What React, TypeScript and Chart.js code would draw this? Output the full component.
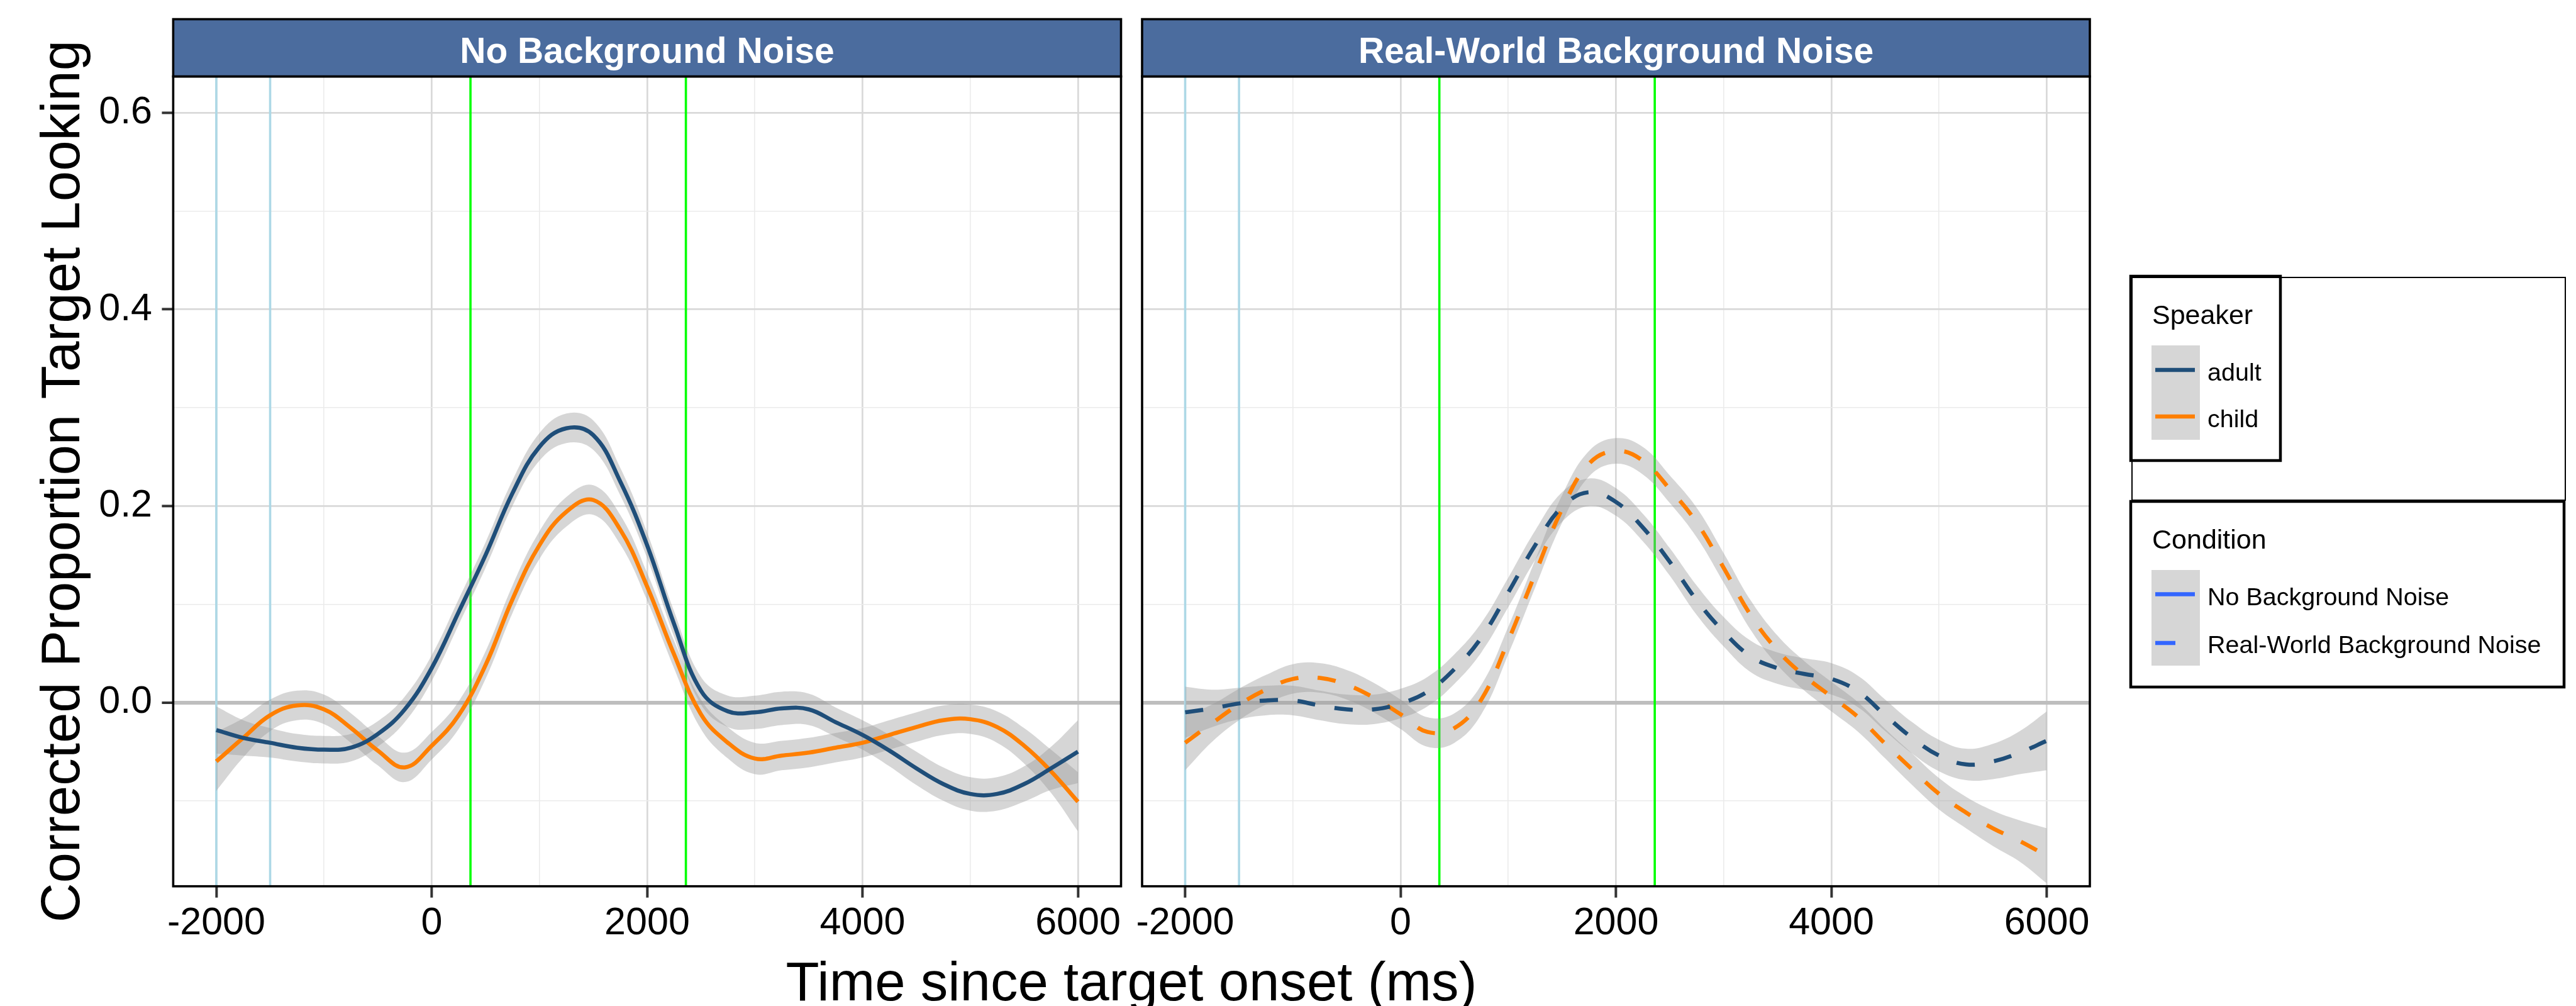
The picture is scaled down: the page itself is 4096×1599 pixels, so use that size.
import React, { useEffect, useRef } from "react";
import { Chart, registerables } from "chart.js";

Chart.register(...registerables);

// ---------------- data ----------------
const TIME = [
  -2000, -1750, -1500, -1250, -1000, -750, -500, -250, 0, 250, 500, 750, 1000, 1250, 1500, 1750, 2000,
  2250, 2500, 2750, 3000, 3250, 3500, 3750, 4000, 4250, 4500, 4750, 5000, 5250, 5500, 5750, 6000,
];

// Panel 1: No Background Noise
const NBN_ADULT = [
  -0.028, -0.036, -0.041, -0.046, -0.048, -0.046, -0.032, -0.007, 0.035, 0.092, 0.15, 0.213, 0.26, 0.279, 0.272,
  0.225, 0.16, 0.08, 0.012, -0.009, -0.01, -0.006, -0.007, -0.02, -0.033, -0.049, -0.067, -0.083, -0.093, -0.093,
  -0.083, -0.067, -0.05,
];
const NBN_CHILD = [
  -0.06, -0.036, -0.013, -0.003, -0.007, -0.026, -0.049, -0.066, -0.044, -0.013, 0.038, 0.105, 0.16, 0.194, 0.206,
  0.176, 0.118, 0.049, -0.012, -0.041, -0.057, -0.054, -0.051, -0.046, -0.041, -0.033, -0.025, -0.018, -0.017,
  -0.025, -0.044, -0.07, -0.101,
];
// half-width of the grey confidence ribbons
const NBN_ADULT_SE = [
  0.024, 0.018, 0.015, 0.014, 0.014, 0.014, 0.013, 0.013, 0.013, 0.013, 0.013, 0.013, 0.014, 0.015, 0.015, 0.014,
  0.013, 0.013, 0.014, 0.016, 0.017, 0.017, 0.016, 0.015, 0.015, 0.016, 0.017, 0.017, 0.017, 0.017, 0.018, 0.022,
  0.032,
];
const NBN_CHILD_SE = [
  0.03, 0.02, 0.016, 0.015, 0.015, 0.015, 0.015, 0.015, 0.014, 0.014, 0.014, 0.014, 0.014, 0.015, 0.015, 0.015,
  0.014, 0.014, 0.015, 0.016, 0.016, 0.015, 0.015, 0.015, 0.015, 0.015, 0.015, 0.015, 0.015, 0.016, 0.018, 0.022,
  0.03,
];

// Panel 2: Real-World Background Noise
const RW_ADULT = [
  -0.01, -0.006, -0.001, 0.002, 0.002, -0.003, -0.007, -0.007, -0.001, 0.011, 0.034, 0.066, 0.112, 0.16, 0.199,
  0.214, 0.204, 0.178, 0.143, 0.104, 0.072, 0.047, 0.035, 0.029, 0.024, 0.011, -0.013, -0.036, -0.054, -0.063,
  -0.06, -0.051, -0.039,
];
const RW_CHILD = [
  -0.041, -0.021, -0.002, 0.013, 0.024, 0.025, 0.018, 0.005, -0.012, -0.03, -0.026, 0.003, 0.063, 0.131, 0.197,
  0.243, 0.256, 0.246, 0.217, 0.183, 0.137, 0.089, 0.053, 0.027, 0.006, -0.015, -0.042, -0.068, -0.093, -0.112,
  -0.128, -0.141, -0.156,
];
const RW_ADULT_SE = [
  0.026, 0.019, 0.016, 0.015, 0.015, 0.015, 0.015, 0.015, 0.015, 0.015, 0.015, 0.015, 0.015, 0.015, 0.015, 0.014,
  0.014, 0.014, 0.014, 0.015, 0.015, 0.016, 0.016, 0.016, 0.016, 0.016, 0.016, 0.016, 0.016, 0.016, 0.018, 0.022,
  0.03,
];
const RW_CHILD_SE = [
  0.028, 0.019, 0.016, 0.015, 0.015, 0.015, 0.015, 0.015, 0.015, 0.015, 0.015, 0.015, 0.014, 0.014, 0.014, 0.013,
  0.013, 0.014, 0.014, 0.015, 0.015, 0.015, 0.015, 0.015, 0.015, 0.015, 0.015, 0.016, 0.016, 0.016, 0.018, 0.021,
  0.028,
];

const PANEL_TITLES = ["No Background Noise", "Real-World Background Noise"];
const X_MAJOR = [-2000, 0, 2000, 4000, 6000];
const X_TICK_LABELS = ["-2000", "0", "2000", "4000", "6000"];
const X_MINOR = [-1000, 1000, 3000, 5000];
const Y_MAJOR = [0, 0.2, 0.4, 0.6];
const Y_TICK_LABELS = ["0.0", "0.2", "0.4", "0.6"];
const Y_MINOR = [-0.1, 0.1, 0.3, 0.5];
const BASELINE_LINES = [-2000, -1500];
const WINDOW_LINES = [360, 2360];
const SPEAKERS = ["adult", "child"];
const CONDITIONS = ["No Background Noise", "Real-World Background Noise"];
const SPEAKER_TITLE = "Speaker";
const CONDITION_TITLE = "Condition";
const X_TITLE = "Time since target onset (ms)";
const Y_TITLE = "Corrected Proportion Target Looking";

// ---------------- styles ----------------
const FONT = "'Liberation Sans', Arial, Helvetica, sans-serif";
const ADULT_COLOR = "#1F4E79";
const CHILD_COLOR = "#FF7F00";
const BAND_COLOR = "rgba(153,153,153,0.4)";
const STRIP_COLOR = "#4B6C9E";
const COND_COLOR = "#3366FF";

const W = 4096;
const H = 1599;
const STRIP_TOP = 30.5;
const PLOT_TOP = 121.5;
const PLOT_BOTTOM = 1408.7;
const PANELS = [
  { canvasLeft: 0, canvasWidth: 2400, areaLeft: 275.4, areaRight: 1782.5 },
  { canvasLeft: 1700, canvasWidth: 2396, areaLeft: 1816, areaRight: 3323 },
];

const near = (a: number, b: number) => Math.abs(a - b) < 1e-9;
const idxOf = (arr: number[], v: number) => arr.findIndex((m) => near(m, v));

function line(ctx: CanvasRenderingContext2D, x1: number, y1: number, x2: number, y2: number) {
  ctx.beginPath();
  ctx.moveTo(x1, y1);
  ctx.lineTo(x2, y2);
  ctx.stroke();
}

function makeDecor(panel: number) {
  const P = PANELS[panel];
  return {
    id: "decor" + panel,
    beforeDatasetsDraw(chart: any) {
      const { ctx, chartArea: a, scales } = chart;
      const x = scales.x;
      ctx.save();
      ctx.beginPath();
      ctx.rect(a.left, a.top, a.right - a.left, a.bottom - a.top);
      ctx.clip();
      ctx.lineWidth = 3.6;
      ctx.strokeStyle = "#ADD8E6";
      BASELINE_LINES.forEach((v) => {
        const px = x.getPixelForValue(v);
        line(ctx, px, a.top, px, a.bottom);
      });
      ctx.strokeStyle = "#00FF00";
      WINDOW_LINES.forEach((v) => {
        const px = x.getPixelForValue(v);
        line(ctx, px, a.top, px, a.bottom);
      });
      ctx.restore();
    },
    afterDraw(chart: any) {
      const { ctx, chartArea: a } = chart;
      ctx.save();
      // panel border
      ctx.strokeStyle = "#000";
      ctx.lineWidth = 3.6;
      ctx.strokeRect(a.left, a.top, a.right - a.left, a.bottom - a.top);
      // strip
      ctx.fillStyle = STRIP_COLOR;
      ctx.fillRect(a.left, STRIP_TOP, a.right - a.left, PLOT_TOP - STRIP_TOP);
      ctx.strokeRect(a.left, STRIP_TOP, a.right - a.left, PLOT_TOP - STRIP_TOP);
      ctx.fillStyle = "#FFFFFF";
      ctx.font = `bold 57px ${FONT}`;
      ctx.textAlign = "center";
      ctx.textBaseline = "alphabetic";
      ctx.fillText(PANEL_TITLES[panel], (a.left + a.right) / 2, 99.5);

      if (panel === 0) {
        ctx.fillStyle = "#000";
        ctx.font = `87px ${FONT}`;
        ctx.textAlign = "center";
        ctx.textBaseline = "alphabetic";
        ctx.fillText(X_TITLE, 1799, 1590);
        ctx.save();
        ctx.translate(126, (PLOT_TOP + PLOT_BOTTOM) / 2);
        ctx.rotate(-Math.PI / 2);
        ctx.fillText(Y_TITLE, 0, 0);
        ctx.restore();
      } else {
        const o = P.canvasLeft;
        // outer thin box
        ctx.strokeStyle = "#000";
        ctx.lineWidth = 2;
        ctx.strokeRect(3390 - o, 441, 689, 354);
        // Speaker box
        ctx.lineWidth = 4.5;
        ctx.strokeRect(3388 - o, 439, 238, 293);
        // Condition box
        ctx.strokeRect(3388 - o, 797, 689, 295);

        ctx.fillStyle = "#000";
        ctx.textAlign = "left";
        ctx.textBaseline = "alphabetic";
        ctx.font = `43px ${FONT}`;
        ctx.fillText(SPEAKER_TITLE, 3422 - o, 515);
        ctx.fillText(CONDITION_TITLE, 3422 - o, 872);

        ctx.fillStyle = "#D6D6D6";
        ctx.fillRect(3421 - o, 549, 77, 150);
        ctx.fillRect(3421 - o, 906, 77, 152);

        ctx.lineWidth = 6.5;
        ctx.strokeStyle = ADULT_COLOR;
        line(ctx, 3427 - o, 588, 3490 - o, 588);
        ctx.strokeStyle = CHILD_COLOR;
        line(ctx, 3427 - o, 662, 3490 - o, 662);
        ctx.strokeStyle = COND_COLOR;
        line(ctx, 3427 - o, 944.5, 3490 - o, 944.5);
        line(ctx, 3427 - o, 1022, 3459 - o, 1022);

        ctx.fillStyle = "#000";
        ctx.font = `39.5px ${FONT}`;
        ctx.fillText(SPEAKERS[0], 3510 - o, 605);
        ctx.fillText(SPEAKERS[1], 3510 - o, 679);
        ctx.fillText(CONDITIONS[0], 3510 - o, 962);
        ctx.fillText(CONDITIONS[1], 3510 - o, 1038);
      }
      ctx.restore();
    },
  };
}

function buildConfig(panel: number): any {
  const P = PANELS[panel];
  const isLeft = panel === 0;
  const adult = isLeft ? NBN_ADULT : RW_ADULT;
  const child = isLeft ? NBN_CHILD : RW_CHILD;
  const adultSe = isLeft ? NBN_ADULT_SE : RW_ADULT_SE;
  const childSe = isLeft ? NBN_CHILD_SE : RW_CHILD_SE;
  const dash = isLeft ? [] : [29, 31];
  const areaLeft = P.areaLeft - P.canvasLeft;
  const areaRight = P.areaRight - P.canvasLeft;

  const pts = (vals: number[], se?: number[], sign = 0) =>
    TIME.map((t, i) => ({ x: t, y: vals[i] + (se ? sign * se[i] : 0) }));

  const common = {
    pointRadius: 0,
    pointHoverRadius: 0,
    pointHitRadius: 0,
    tension: 0.4,
  };
  const bandEdge = { ...common, borderColor: "rgba(0,0,0,0)", borderWidth: 0.01, order: 1 };

  const xAll = [...X_MAJOR, ...X_MINOR].sort((a, b) => a - b);
  const yAll = [...Y_MAJOR, ...Y_MINOR].sort((a, b) => a - b);

  return {
    type: "line",
    data: {
      datasets: [
        { ...common, label: SPEAKERS[0], data: pts(adult), borderColor: ADULT_COLOR, borderWidth: 6.5, borderDash: dash, fill: false, order: 0 },
        { ...common, label: SPEAKERS[1], data: pts(child), borderColor: CHILD_COLOR, borderWidth: 6.5, borderDash: dash, fill: false, order: 0 },
        { ...bandEdge, data: pts(adult, adultSe, 1), fill: false },
        { ...bandEdge, data: pts(adult, adultSe, -1), fill: "-1", backgroundColor: BAND_COLOR },
        { ...bandEdge, data: pts(child, childSe, 1), fill: false },
        { ...bandEdge, data: pts(child, childSe, -1), fill: "-1", backgroundColor: BAND_COLOR },
      ],
    },
    options: {
      animation: false,
      responsive: false,
      devicePixelRatio: 1,
      events: [],
      layout: { padding: { left: 0, top: PLOT_TOP, right: P.canvasWidth - areaRight, bottom: 0 } },
      plugins: { legend: { display: false }, tooltip: { enabled: false }, title: { display: false } },
      scales: {
        x: {
          type: "linear",
          min: -2400,
          max: 6400,
          bounds: "data",
          afterBuildTicks: (s: any) => {
            s.ticks = xAll.map((v) => ({ value: v }));
          },
          afterFit: (s: any) => {
            s.height = H - PLOT_BOTTOM;
          },
          border: { display: false },
          grid: {
            color: (c: any) => (c.tick && idxOf(X_MAJOR, c.tick.value) >= 0 ? "#D9D9D9" : "#EBEBEB"),
            lineWidth: (c: any) => (c.tick && idxOf(X_MAJOR, c.tick.value) >= 0 ? 2.7 : 1.6),
            drawTicks: true,
            tickLength: 18,
            tickWidth: 4,
            tickColor: (c: any) => (c.tick && idxOf(X_MAJOR, c.tick.value) >= 0 ? "#333333" : "rgba(0,0,0,0)"),
          },
          ticks: {
            autoSkip: false,
            maxRotation: 0,
            minRotation: 0,
            padding: 11,
            color: "#000",
            font: { family: FONT, size: 61, lineHeight: 1 },
            callback: (v: number) => {
              const i = idxOf(X_MAJOR, v);
              return i >= 0 ? X_TICK_LABELS[i] : "";
            },
          },
        },
        y: {
          type: "linear",
          min: -0.187,
          max: 0.637,
          bounds: "data",
          afterBuildTicks: (s: any) => {
            s.ticks = yAll.map((v) => ({ value: v }));
          },
          afterFit: (s: any) => {
            s.width = areaLeft;
          },
          border: { display: false },
          grid: {
            color: (c: any) => {
              if (!c.tick) return "#EBEBEB";
              if (near(c.tick.value, 0)) return "#BEBEBE";
              return idxOf(Y_MAJOR, c.tick.value) >= 0 ? "#D9D9D9" : "#EBEBEB";
            },
            lineWidth: (c: any) => {
              if (!c.tick) return 1.6;
              if (near(c.tick.value, 0)) return 6;
              return idxOf(Y_MAJOR, c.tick.value) >= 0 ? 2.7 : 1.6;
            },
            drawTicks: isLeft,
            tickLength: 18,
            tickWidth: 4,
            tickColor: (c: any) => (c.tick && idxOf(Y_MAJOR, c.tick.value) >= 0 ? "#333333" : "rgba(0,0,0,0)"),
          },
          ticks: {
            display: isLeft,
            padding: 15.4,
            color: "#000",
            font: { family: FONT, size: 61, lineHeight: 1 },
            callback: (v: number) => {
              const i = idxOf(Y_MAJOR, v);
              return i >= 0 ? Y_TICK_LABELS[i] : "";
            },
          },
        },
      },
    },
    plugins: [makeDecor(panel)],
  };
}

export default function App() {
  const leftRef = useRef<HTMLCanvasElement>(null);
  const rightRef = useRef<HTMLCanvasElement>(null);

  useEffect(() => {
    document.body.style.margin = "0";
    document.body.style.background = "#FFFFFF";
    const c1 = new Chart(leftRef.current as HTMLCanvasElement, buildConfig(0));
    const c2 = new Chart(rightRef.current as HTMLCanvasElement, buildConfig(1));
    return () => {
      c1.destroy();
      c2.destroy();
    };
  }, []);

  return (
    <div style={{ position: "relative", width: W, height: H, background: "#FFFFFF", overflow: "hidden" }}>
      <canvas
        ref={leftRef}
        width={PANELS[0].canvasWidth}
        height={H}
        style={{ position: "absolute", left: PANELS[0].canvasLeft, top: 0, width: PANELS[0].canvasWidth, height: H }}
      />
      <canvas
        ref={rightRef}
        width={PANELS[1].canvasWidth}
        height={H}
        style={{ position: "absolute", left: PANELS[1].canvasLeft, top: 0, width: PANELS[1].canvasWidth, height: H }}
      />
    </div>
  );
}
